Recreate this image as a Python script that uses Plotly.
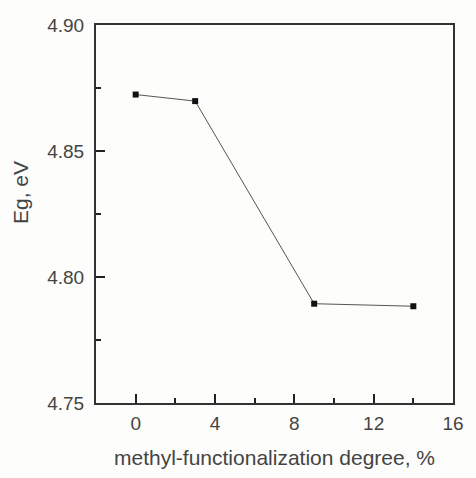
import plotly.graph_objects as go

degree = [0, 3, 9, 14]
eg = [4.8724, 4.8698, 4.7894, 4.7884]

x_ticks = [0, 4, 8, 12, 16]
y_ticks = [4.75, 4.80, 4.85, 4.90]
y_tick_labels = ["4.75", "4.80", "4.85", "4.90"]

fig = go.Figure()
fig.add_trace(go.Scatter(
    x=degree, y=eg, mode="lines+markers",
    line=dict(color="#555555", width=1),
    marker=dict(symbol="square", size=6, color="#111111"),
    showlegend=False,
))

tfont = dict(family="Liberation Sans, Arial, sans-serif", size=19, color="#444444")
titlefont = dict(family="Liberation Sans, Arial, sans-serif", size=21, color="#444444")

fig.update_layout(
    width=476, height=478,
    margin=dict(l=96, r=23, t=25, b=75),
    paper_bgcolor="#fdfdfb", plot_bgcolor="#fdfdfb",
    font=tfont,
    xaxis=dict(
        range=[-2, 16], tickvals=x_ticks, ticktext=[str(v) for v in x_ticks],
        ticks="inside", ticklen=9, tickwidth=2, tickcolor="#222222",
        minor=dict(ticks="inside", ticklen=5, tickwidth=2, dtick=2, tick0=0, tickcolor="#222222"),
        showline=True, linecolor="#333333", linewidth=2, mirror=True,
        showgrid=False, zeroline=False,
        tickfont=tfont, ticklabelstandoff=2,
    ),
    yaxis=dict(
        range=[4.75, 4.90], tickvals=y_ticks, ticktext=y_tick_labels,
        ticks="inside", ticklen=9, tickwidth=2, tickcolor="#222222",
        minor=dict(ticks="inside", ticklen=5, tickwidth=2, dtick=0.025, tick0=4.75, tickcolor="#222222"),
        showline=True, linecolor="#333333", linewidth=2, mirror=True,
        showgrid=False, zeroline=False,
        tickfont=tfont, ticklabelstandoff=6,
    ),
    annotations=[
        dict(text="Eg, eV", xref="paper", yref="paper", x=-0.213, y=0.558,
             textangle=-90, showarrow=False, font=titlefont,
             xanchor="center", yanchor="middle"),
        dict(text="methyl-functionalization degree, %", xref="paper", yref="paper",
             x=0.5, y=-0.143, showarrow=False, font=titlefont,
             xanchor="center", yanchor="middle"),
    ],
)

fig.write_html("out.html")
